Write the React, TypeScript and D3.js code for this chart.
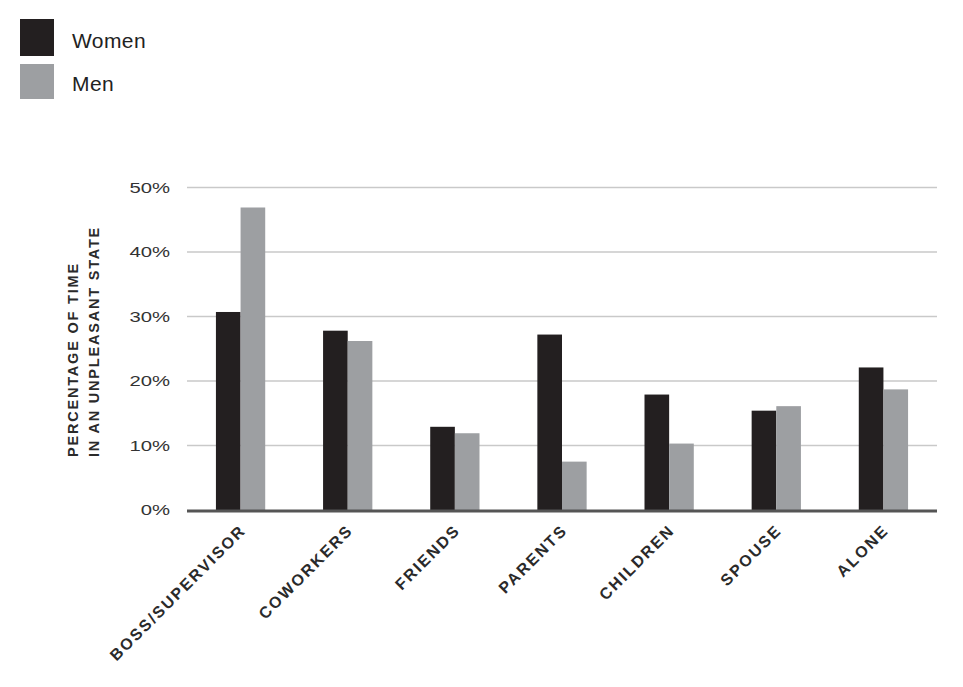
import React from "react";
import * as d3 from "d3";

const categories = ["BOSS/SUPERVISOR", "COWORKERS", "FRIENDS", "PARENTS", "CHILDREN", "SPOUSE", "ALONE"];
const women = [30.7, 27.8, 12.9, 27.2, 17.9, 15.4, 22.1];
const men = [46.9, 26.2, 11.9, 7.5, 10.3, 16.1, 18.7];
const yTicks = [0, 10, 20, 30, 40, 50];
const seriesNames = ["Women", "Men"];
const seriesColors = ["#231f20", "#9d9fa2"];

const W = 963;
const H = 687;
const FONT = "'Liberation Sans', Arial, Helvetica, sans-serif";

export default function App() {
  const x = d3.scaleBand<string>().domain(categories).range([187, 937]).paddingInner(0.54).paddingOuter(0.27);
  const x1 = d3.scaleBand<string>().domain(seriesNames).range([0, x.bandwidth()]);
  const y = d3.scaleLinear().domain([0, 50]).range([510, 187.5]);
  const series = [women, men];

  return (
    <svg width={W} height={H} style={{ position: "absolute", left: 0, top: 0, background: "#fff" }} fontFamily={FONT}>
      {/* legend */}
      {seriesNames.map((name, i) => (
        <g key={name}>
          <rect x={20} y={i === 0 ? 19 : 64} width={34} height={i === 0 ? 37 : 35} fill={seriesColors[i]} />
          <text x={72} y={i === 0 ? 48 : 91} fontSize={21} letterSpacing={0.4} fill="#222">{name}</text>
        </g>
      ))}

      {/* gridlines */}
      {yTicks.filter((t) => t > 0).map((t) => (
        <line key={t} x1={187} x2={937} y1={y(t)} y2={y(t)} stroke="#c9c9c9" strokeWidth={1.6} />
      ))}

      {/* y tick labels */}
      {yTicks.map((t) => (
        <g key={t} transform={`translate(170,${y(t)}) scale(1.45,1)`}>
          <text textAnchor="end" dy="0.36em" fontSize={14} fill="#333">{`${t}%`}</text>
        </g>
      ))}

      {/* y axis title */}
      <g transform="translate(78,457) rotate(-90)">
        <text x={0} y={0} fontSize={14.5} fontWeight="bold" fill="#2a2a2a" letterSpacing={1.8}>PERCENTAGE OF TIME</text>
        <text x={0} y={21} fontSize={14.5} fontWeight="bold" fill="#2a2a2a" letterSpacing={1.8}>IN AN UNPLEASANT STATE</text>
      </g>

      {/* bars */}
      {categories.map((c, ci) => (
        <g key={c}>
          {series.map((s, si) => (
            <rect
              key={si}
              x={(x(c) ?? 0) + (x1(seriesNames[si]) ?? 0)}
              y={y(s[ci])}
              width={x1.bandwidth()}
              height={y(0) - y(s[ci])}
              fill={seriesColors[si]}
            />
          ))}
        </g>
      ))}

      {/* baseline */}
      <line x1={187} x2={937} y1={511} y2={511} stroke="#555" strokeWidth={3} />

      {/* x labels */}
      {categories.map((c) => {
        const cx = (x(c) ?? 0) + x.bandwidth() / 2 - 1;
        return (
          <text
            key={c}
            transform={`translate(${cx},524) rotate(-45)`}
            textAnchor="end"
            dy="0.65em"
            fontSize={16}
            fontWeight="bold"
            letterSpacing={2}
            fill="#2a2a2a"
          >
            {c}
          </text>
        );
      })}
    </svg>
  );
}
